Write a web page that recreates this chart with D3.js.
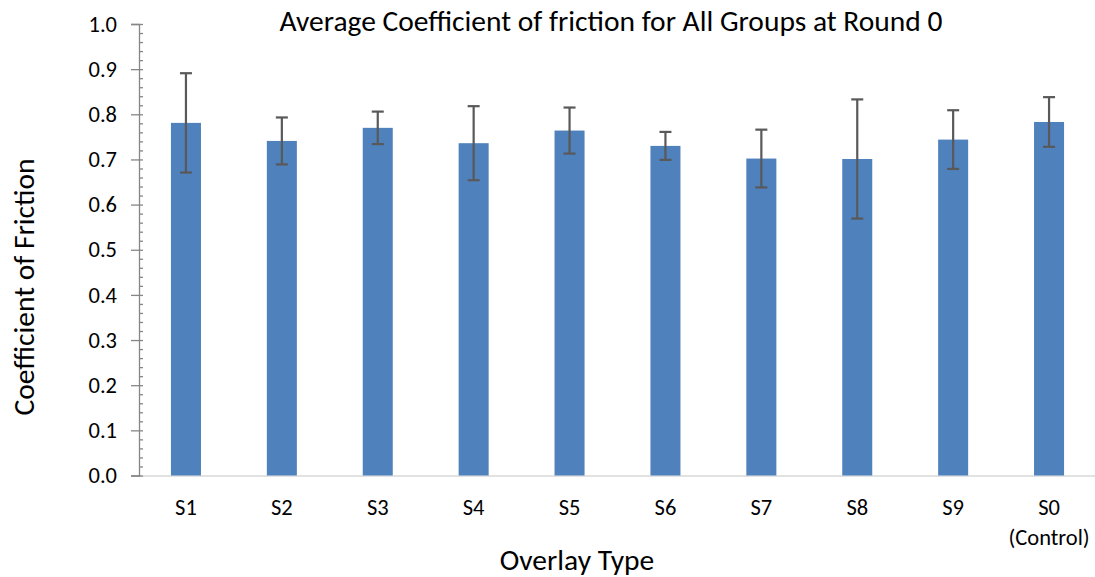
<!DOCTYPE html>
<html>
<head>
<meta charset="utf-8">
<script src="https://cdn.jsdelivr.net/npm/d3@7"></script>
<style>
  html, body { margin: 0; padding: 0; background: #fff; }
  svg text { font-family: Carlito, Calibri, Lato, "Open Sans", sans-serif; fill: #000; }
</style>
</head>
<body>
<svg id="chart" width="1095" height="577"></svg>
<script>
const categories = ["S1","S2","S3","S4","S5","S6","S7","S8","S9","S0"];
const tickLabels = [["S1"],["S2"],["S3"],["S4"],["S5"],["S6"],["S7"],["S8"],["S9"],["S0","(Control)"]];
const values = [0.781, 0.741, 0.770, 0.736, 0.764, 0.730, 0.702, 0.701, 0.744, 0.783];
const errors = [0.110, 0.052, 0.036, 0.082, 0.051, 0.031, 0.064, 0.132, 0.065, 0.055];
const yMajorTicks = [0.0,0.1,0.2,0.3,0.4,0.5,0.6,0.7,0.8,0.9,1.0];
const titleText = "Average Coefficient of friction for All Groups at Round 0";
const xTitle = "Overlay Type";
const yTitle = "Coefficient of Friction";

const svg = d3.select("#chart");
const axisX = 139, y0 = 475.5, y1 = 24;

const y = d3.scaleLinear().domain([0, 1]).range([y0, y1]);
const x = d3.scaleBand().domain(categories).range([138, 1097])
  .paddingInner(0.687).paddingOuter(0.3435);

// x axis
const gx = svg.append("g").attr("transform", `translate(0,${y0})`)
  .call(d3.axisBottom(x).tickSize(0).tickFormat(""));
gx.select(".domain").attr("stroke", "#d9d9d9").attr("stroke-width", 1.5);
gx.selectAll(".tick").each(function(d, i) {
  const t = d3.select(this).append("text").attr("text-anchor", "middle")
    .style("font-size", "22.5px");
  tickLabels[i].forEach((s, k) => {
    t.append("tspan").attr("x", 0).attr("y", 39 + k * 30).text(s);
  });
});

// bars
svg.append("g").selectAll("rect").data(values).join("rect")
  .attr("x", (d, i) => x(categories[i]))
  .attr("width", x.bandwidth())
  .attr("y", d => y(d))
  .attr("height", d => y0 - y(d))
  .attr("fill", "#4f81bd");

// error bars
const eg = svg.append("g").attr("stroke", "#595959").attr("stroke-width", 2.2);
values.forEach((v, i) => {
  const cx = x(categories[i]) + x.bandwidth() / 2;
  const lo = y(v - errors[i]), hi = y(v + errors[i]);
  eg.append("line").attr("x1", cx).attr("x2", cx).attr("y1", lo).attr("y2", hi);
  eg.append("line").attr("x1", cx - 6).attr("x2", cx + 6).attr("y1", lo).attr("y2", lo);
  eg.append("line").attr("x1", cx - 6).attr("x2", cx + 6).attr("y1", hi).attr("y2", hi);
});

// y axis major
const gy = svg.append("g").attr("transform", `translate(${axisX},0)`)
  .call(d3.axisLeft(y).tickValues(yMajorTicks).tickSize(8).tickPadding(14).tickFormat(d3.format(".1f")));
gy.select(".domain").attr("stroke", "#868686").attr("stroke-width", 1.3);
gy.selectAll(".tick line").attr("stroke", "#868686").attr("stroke-width", 1.3);
gy.selectAll(".tick text").style("font-size", "22.5px").attr("fill", "#000");

// y axis minor
const minor = d3.range(0, 51).map(k => k * 0.02);
const gm = svg.append("g").attr("transform", `translate(${axisX},0)`)
  .call(d3.axisRight(y).tickValues(minor).tickSize(4).tickFormat(""));
gm.select(".domain").remove();
gm.selectAll(".tick line").attr("stroke", "#868686").attr("stroke-width", 1.3);

// titles
svg.append("text").attr("x", 611).attr("y", 31).attr("text-anchor", "middle")
  .style("font-size", "29.5px").text(titleText);
svg.append("text").attr("x", 577).attr("y", 570).attr("text-anchor", "middle")
  .style("font-size", "29.5px").text(xTitle);
svg.append("text").attr("transform", "translate(34,287) rotate(-90)").attr("text-anchor", "middle")
  .style("font-size", "29.5px").text(yTitle);
</script>
</body>
</html>
